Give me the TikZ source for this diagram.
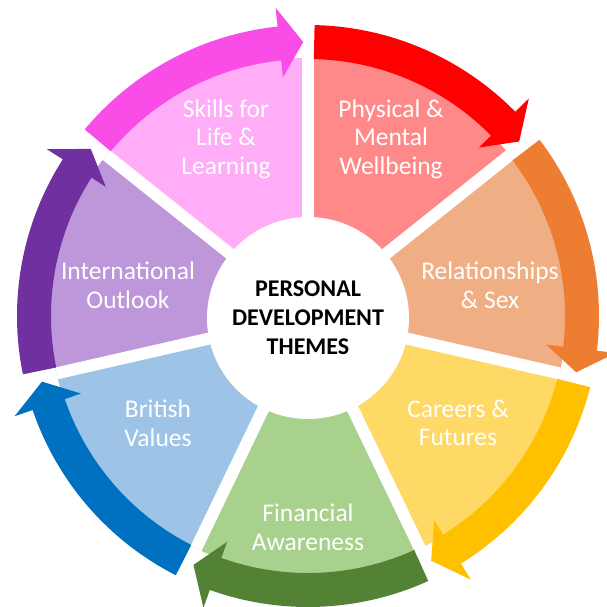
\documentclass[tikz,border=0pt]{standalone}
\usepackage{fontspec}
\setmainfont{Carlito}
\usepackage{xcolor}
\usetikzlibrary{positioning}

\definecolor{physfill}{HTML}{FF8989}
\definecolor{physarrow}{HTML}{FF0000}
\definecolor{relfill}{HTML}{F0AE84}
\definecolor{relarrow}{HTML}{ED7D31}
\definecolor{carfill}{HTML}{FFD966}
\definecolor{cararrow}{HTML}{FFC000}
\definecolor{finfill}{HTML}{A9D18E}
\definecolor{finarrow}{HTML}{548235}
\definecolor{britfill}{HTML}{9DC3E6}
\definecolor{britarrow}{HTML}{0070C0}
\definecolor{intfill}{HTML}{BE96DA}
\definecolor{intarrow}{HTML}{7030A0}
\definecolor{skillfill}{HTML}{FEADF6}
\definecolor{skillarrow}{HTML}{FA4DE8}

\tikzset{
  theme/.style={text=white, align=center, font=\fontsize{25.5}{28.5}\selectfont},
  hub/.style={circle, fill=white, minimum size=202pt, inner sep=0pt, align=center,
    font=\bfseries\fontsize{24}{29}\selectfont}
}

\begin{document}
\begin{tikzpicture}[x=1pt,y=1pt]
    \def\slice{51.4286}
    \def\rfill{258}
    \def\rin{257}
    \def\rout{291}
    \def\rmid{274}

    \useasboundingbox (-308,-291) rectangle (298,316);

    % wedges
    \foreach \s/\fcol in {90/physfill, 38.5714/relfill, -12.8571/carfill, -64.2857/finfill,
                          -115.7143/britfill, -167.1429/intfill, 141.4286/skillfill}
      \fill[\fcol] (0,0) -- (\s:\rfill) arc[start angle=\s, delta angle=-\slice, radius=\rfill] -- cycle;

    % gaps
    \foreach \s in {90, 38.5714, -12.8571, -64.2857, -115.7143, -167.1429, 141.4286}
      \draw[white, line width=12] (0,0) -- (\s:\rfill);

    % arrows round the rim
    \foreach \s/\acol in {90/physarrow, 38.5714/relarrow, -12.8571/cararrow, -64.2857/finarrow,
                          -115.7143/britarrow, -167.1429/intarrow, 141.4286/skillarrow} {
      \pgfmathsetmacro{\e}{\s-\slice}
      \fill[\acol] (\s-1.3:\rout) arc[start angle=\s-1.3, end angle=\e+6, radius=\rout]
        -- (\e+6:310) -- (\e+1:\rmid) -- (\e+6:240) -- (\e+6:\rin)
        arc[start angle=\e+6, end angle=\s-1.3, radius=\rin] -- cycle;
    }

    \node[hub] (title) at (0,-2) {PERSONAL\\DEVELOPMENT\\THEMES};

    \node[theme] (physical) at (83,177) {Physical \&\\Mental\\Wellbeing};
    \node[theme] (relations) at (182,31) {Relationships\\\& Sex};
    \node[theme] (careers) at (150,-107) {Careers \&\\Futures};
    \node[theme] (financial) at (0,-211) {Financial\\Awareness};
    \node[theme] (british) at (-150,-107) {British\\Values};
    \node[theme] (international) at (-180,31) {International\\Outlook};
    \node[theme] (skills) at (-82,177) {Skills for\\Life \&\\Learning};
\end{tikzpicture}
\end{document}
